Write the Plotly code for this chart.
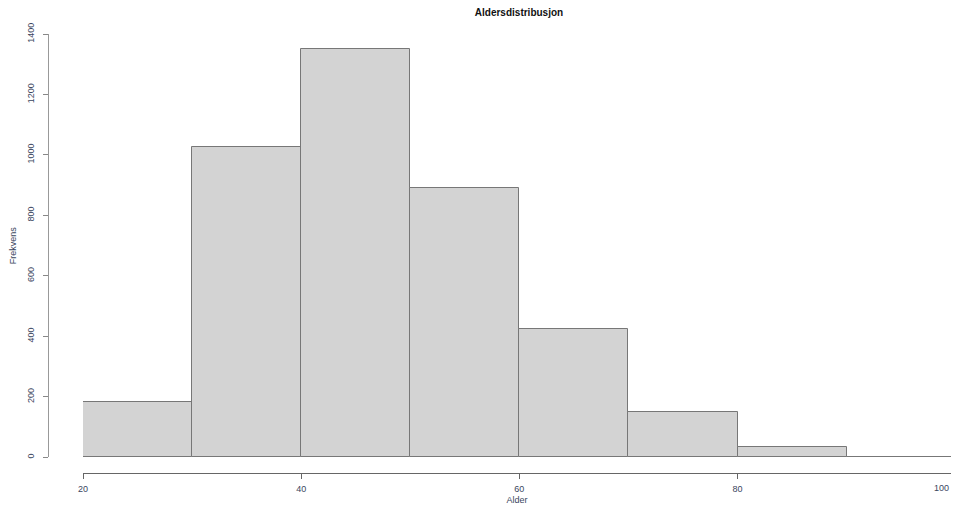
import plotly.graph_objects as go

# Data: age histogram (bins of width 10)
bin_starts = [20, 30, 40, 50, 60, 70, 80, 90]
bin_width = 10
counts = [182, 1027, 1350, 890, 424, 150, 34, 2]
x_ticks = [20, 40, 60, 80]
x_edge_tick = 100
y_ticks = [0, 200, 400, 600, 800, 1000, 1200, 1400]

title_text = "Aldersdistribusjon"
x_title = "Alder"
y_title = "Frekvens"

# The page body has an 8px margin: size the figure so the page fits exactly
OFF = 8
W, H = 959 - 2 * OFF, 513 - 2 * OFF
ml, mr, mt = 48 - OFF, 0, 34 - OFF
axis_y = 473 - OFF
mb = H - axis_y
pw = W - ml - mr
ph = H - mt - mb

px_per_unit = (955.7 - 83) / 80.0
x0_px = 83 - OFF - ml                     # pixel of x=20 inside the paper
x_max = 20 + (pw - x0_px) / px_per_unit   # value at the right edge of the page

centers = [s + bin_width / 2 for s in bin_starts]

fig = go.Figure()
fig.add_trace(go.Bar(
    x=centers, y=counts, width=[bin_width] * len(counts),
    marker=dict(color="#D3D3D3", line=dict(color="#777777", width=1)),
    hoverinfo="x+y", showlegend=False,
))

FONT = "Liberation Sans, Arial, sans-serif"
tick_font = dict(family=FONT, size=9, color="#3a4660")

fig.update_layout(
    width=W, height=H, autosize=False,
    margin=dict(l=ml, r=mr, t=mt, b=mb, pad=0),
    paper_bgcolor="white", plot_bgcolor="white",
    bargap=0,
    title=dict(text="<b>" + title_text + "</b>", x=(519 - OFF) / W, xanchor="center",
               y=1 - (12.5 - OFF) / H, yanchor="middle",
               font=dict(family=FONT, size=10, color="#111111")),
    xaxis=dict(
        range=[20, x_max], domain=[x0_px / pw, 1],
        anchor="free", position=0,
        tickvals=x_ticks, ticktext=[str(v) for v in x_ticks],
        ticks="outside", ticklen=5, tickcolor="#666666", tickwidth=1,
        ticklabelstandoff=2, ticklabeloverflow="allow",
        showline=True, linecolor="#666666", linewidth=1,
        showgrid=False, zeroline=False,
        tickfont=tick_font,
        title=dict(text=x_title, standoff=6,
                   font=dict(family=FONT, size=9, color="#3a4660")),
    ),
    yaxis=dict(
        range=[0, 1400], domain=[(axis_y - (457.3 - OFF)) / ph, 1],
        anchor="free", position=0,
        tickvals=y_ticks, ticktext=[str(v) for v in y_ticks],
        tickangle=-90,
        ticks="outside", ticklen=5, tickcolor="#888888", tickwidth=1,
        ticklabelstandoff=5, ticklabeloverflow="allow",
        showline=True, linecolor="#999999", linewidth=1,
        showgrid=False, zeroline=False,
        tickfont=tick_font,
        title=dict(text=y_title, standoff=8,
                   font=dict(family=FONT, size=9, color="#3a4660")),
    ),
)

# the "100" tick label sits at the very right edge of the page; keep it fully visible
fig.add_annotation(
    x=1, xref="paper", y=0, yref="paper", yshift=-15,
    text=str(x_edge_tick), showarrow=False, font=tick_font,
    xanchor="right", yanchor="middle",
)

fig.write_html("out.html")
